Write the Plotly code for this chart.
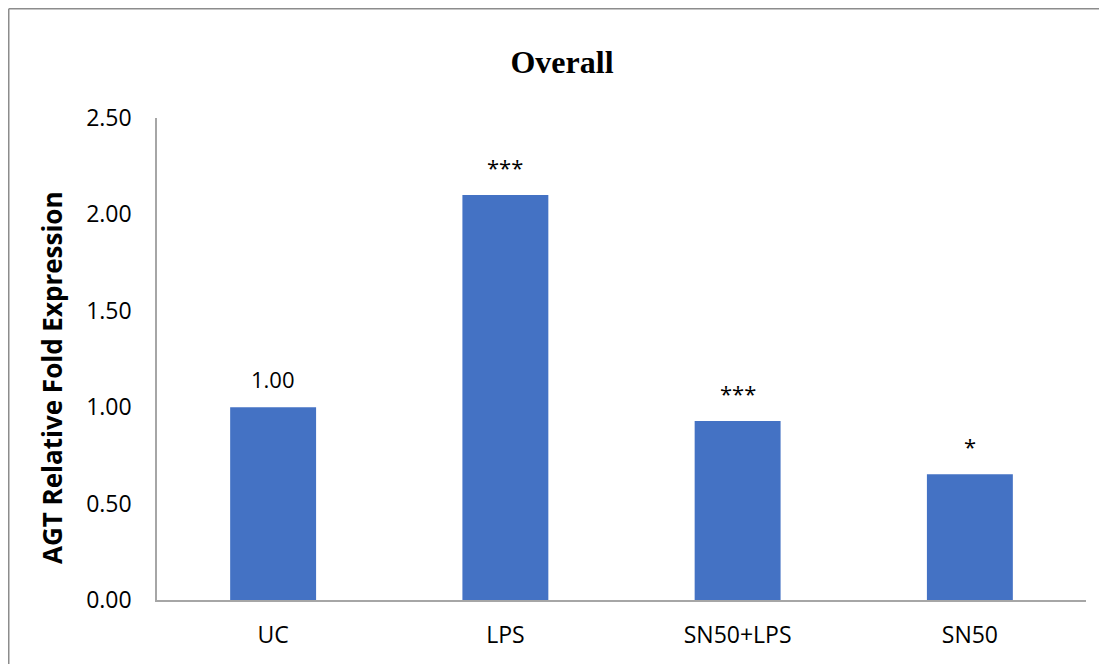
import plotly.graph_objects as go

categories = ["UC", "LPS", "SN50+LPS", "SN50"]
values = [1.00, 2.10, 0.928, 0.652]
labels = ["1.00", "***", "***", "*"]
y_ticks = [0.0, 0.5, 1.0, 1.5, 2.0, 2.5]
y_tick_text = ["0.00", "0.50", "1.00", "1.50", "2.00", "2.50"]

# page is offset by the 8px default body margin
W, H = 1099, 656
L, R, T, B = 149, 21, 110, 64
pw, ph = W - L - R, H - T - B

fig = go.Figure()
fig.add_trace(go.Bar(x=categories, y=values, marker=dict(color="#4472C4", line=dict(width=0)),
                     width=0.37, hoverinfo="skip"))

for c, v, t in zip(categories, values, labels):
    fig.add_annotation(x=c, y=v, xref="x", yref="y", text=t, showarrow=False,
                       yanchor="bottom", yshift=11,
                       font=dict(family="Open Sans", size=22, color="#000000"))

# y axis title
fig.add_annotation(xref="paper", yref="paper", x=-105 / pw, y=(592 - 370) / ph,
                   text="<b>AGT Relative Fold Expression</b>", textangle=-90, showarrow=False,
                   xanchor="center", yanchor="middle",
                   font=dict(family="Open Sans", size=26, color="#000000"))

# outer border (top and left visible)
bx = (0.75 - L) / pw
by = (ph + T - 0.75) / ph
fig.add_shape(type="line", xref="paper", yref="paper",
              x0=bx, x1=1.1, y0=by, y1=by,
              line=dict(color="#8C8C8C", width=1.5))
fig.add_shape(type="line", xref="paper", yref="paper",
              x0=bx, x1=bx, y0=by, y1=-0.3,
              line=dict(color="#8C8C8C", width=1.5))

fig.update_layout(
    width=W, height=H, autosize=False,
    margin=dict(l=L, r=R, t=T, b=B),
    paper_bgcolor="white", plot_bgcolor="white",
    showlegend=False,
    title=dict(text="<b>Overall</b>", x=(562 - 8) / W, xref="container", xanchor="center",
               y=1 - 54 / H, yref="container", yanchor="middle",
               font=dict(family="Liberation Serif", size=32, color="#000000")),
    xaxis=dict(showline=True, linecolor="#A6A6A6", linewidth=1.5, showgrid=False,
               ticks="outside", ticklen=14, tickcolor="rgba(0,0,0,0)",
               tickfont=dict(family="Open Sans", size=23, color="#000000"), fixedrange=True),
    yaxis=dict(range=[0, 2.5], tickvals=y_ticks, ticktext=y_tick_text,
               showline=True, linecolor="#A6A6A6", linewidth=1.5, showgrid=False, zeroline=False,
               ticks="outside", ticklen=19, tickcolor="rgba(0,0,0,0)",
               tickfont=dict(family="Open Sans", size=23, color="#000000"), fixedrange=True),
)

fig.write_html("out.html")
